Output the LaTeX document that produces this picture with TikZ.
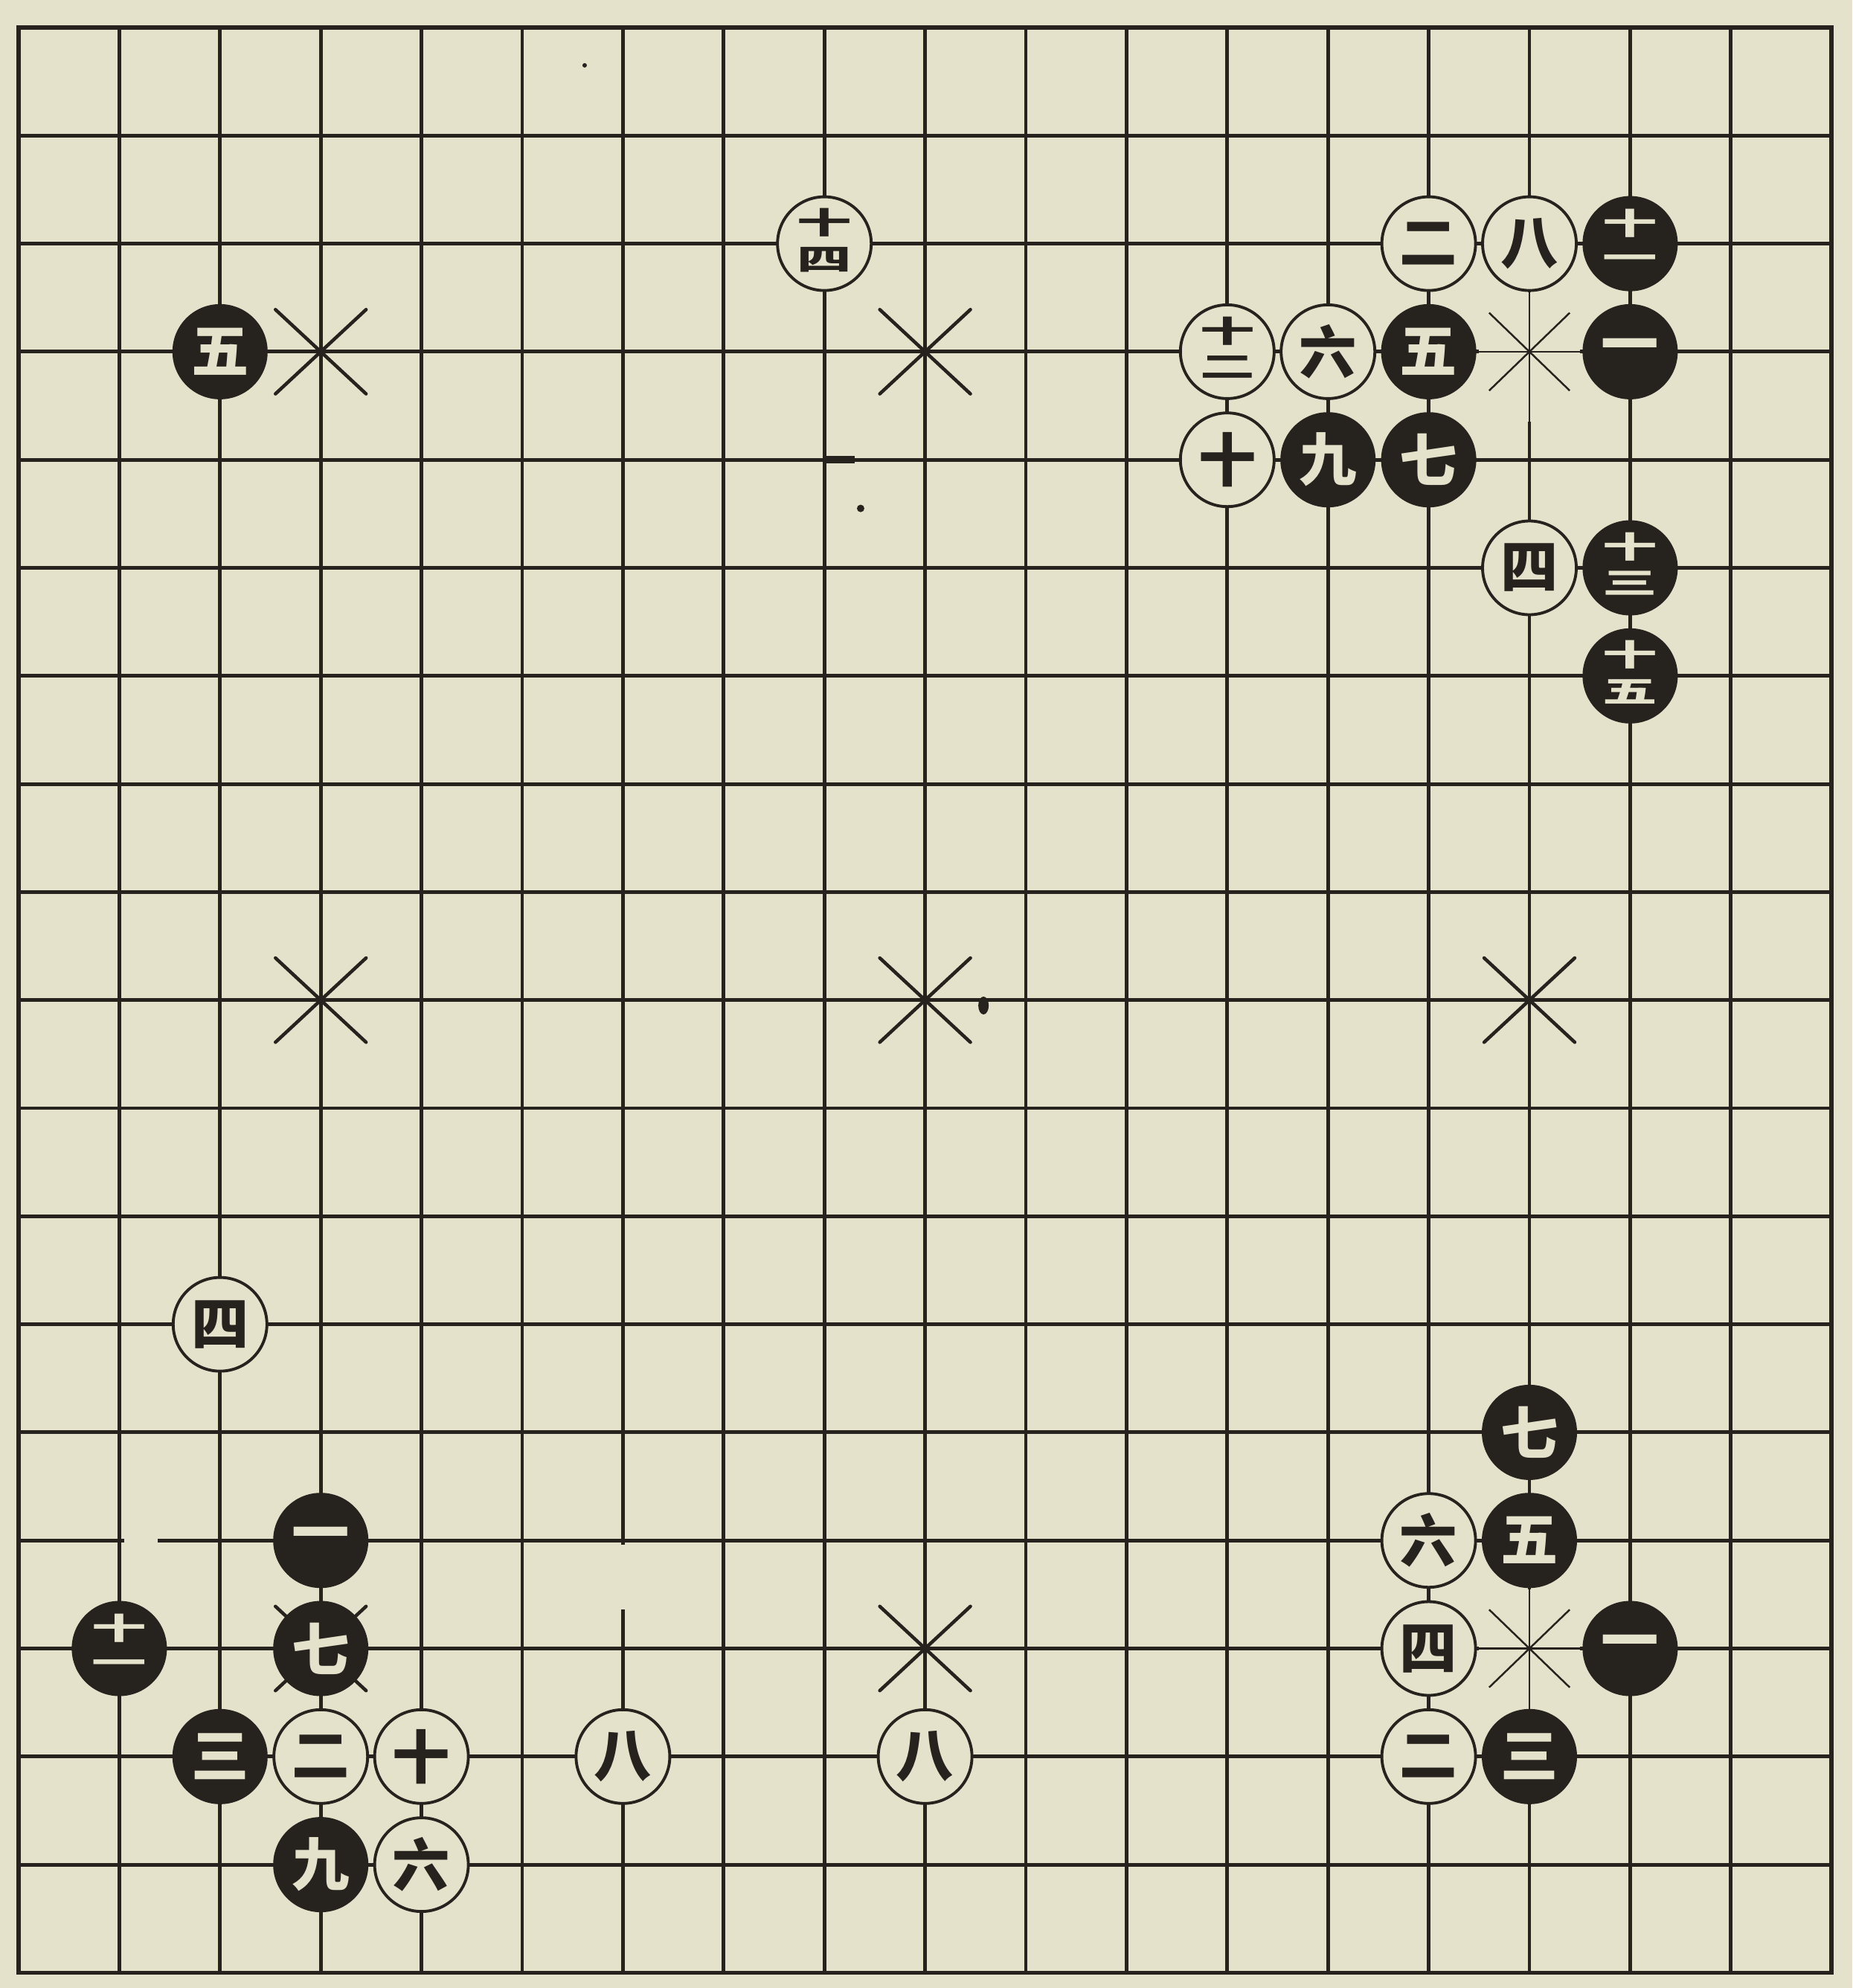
\documentclass[tikz,border=0pt]{standalone}
\usepackage{fontspec}
\usepackage{graphicx}
\newfontfamily\cjk{Noto Sans CJK SC}
\definecolor{paper}{RGB}{228,226,203}
\definecolor{ink}{RGB}{38,34,30}
\tikzset{
  gridline/.style={draw=ink, line width=1.4pt},
  thinline/.style={draw=ink, line width=0.6pt},
  erase/.style={draw=paper, line width=2.6pt},
  starx/.style={draw=ink, line width=1.3pt, line cap=round},
  thinstar/.style={draw=ink, line width=0.7pt},
  wst/.style={circle, draw=ink, fill=paper, line width=1.1pt, minimum size=1.26cm, inner sep=0pt,
    font=\cjk\bfseries\fontsize{22}{22}\selectfont, text=ink},
  bst/.style={circle, fill=ink, minimum size=1.28cm, inner sep=0pt,
    font=\cjk\bfseries\fontsize{22}{22}\selectfont, text=paper},
}
\newcommand\stk[2]{\scalebox{0.95}[0.52]{\shortstack{\strut#1\\\strut#2}}}
\begin{document}
\begin{tikzpicture}[x=1.354cm, y=-1.453cm]
\fill[paper] (0.8154,0.7454) rectangle (19.2053,19.1418);
\useasboundingbox (0.8154,0.7454) rectangle (19.2053,19.1418);
% grid
\foreach \i in {2,...,18} {
  \draw[gridline] (\i,1) -- (\i,19);
  \draw[gridline] (1,\i) -- (19,\i);
}
\draw[gridline, line width=1.6pt] (1,1) rectangle (19,19);
% gaps and thin parts of the print
\draw[erase] (7,15.04) -- (7,15.64);
\draw[erase] (2.05,15) -- (2.38,15);
\draw[erase] (16,3.45) -- (16,4.65) (15.5,4) -- (16.5,4);
\draw[thinline] (16,3.45) -- (16,4.65) (15.5,4) -- (16.5,4);
\draw[erase] (16,15.45) -- (16,16.6) (15.5,16) -- (16.5,16);
\draw[thinline] (16,15.45) -- (16,16.6) (15.5,16) -- (16.5,16);
% star points
\foreach \a/\b in {4/4,10/4,4/10,10/10,16/10,4/16,10/16} {
  \draw[starx] (\a-0.45,\b-0.39) -- (\a+0.45,\b+0.39) (\a-0.45,\b+0.39) -- (\a+0.45,\b-0.39);
}
\foreach \a/\b in {16/4,16/16} {
  \draw[thinstar] (\a-0.4,\b-0.36) -- (\a+0.4,\b+0.36) (\a-0.4,\b+0.36) -- (\a+0.4,\b-0.36);
}
% printing specks
\draw[ink, line width=3pt] (9,5) -- (9.3,5);
\fill[ink] (9.36,5.45) circle (0.05cm);
\fill[ink] (10.58,10.05) ellipse (0.07cm and 0.12cm);
\fill[ink] (6.62,1.35) circle (0.03cm);
% white stones
\node[wst] (w1) at (9,3) {\stk{十}{四}};
\node[wst] (w2) at (15,3) {二};
\node[wst] (w3) at (16,3) {八};
\node[wst] (w4) at (13,4) {\stk{十}{二}};
\node[wst] (w5) at (14,4) {六};
\node[wst] (w6) at (13,5) {十};
\node[wst] (w7) at (16,6) {四};
\node[wst] (w8) at (3,13) {四};
\node[wst] (w9) at (4,17) {二};
\node[wst] (w10) at (5,17) {十};
\node[wst] (w11) at (7,17) {八};
\node[wst] (w12) at (10,17) {八};
\node[wst] (w13) at (5,18) {六};
\node[wst] (w14) at (15,15) {六};
\node[wst] (w15) at (15,16) {四};
\node[wst] (w16) at (15,17) {二};
% black stones
\node[bst] (b1) at (3,4) {五};
\node[bst] (b2) at (17,3) {\stk{十}{一}};
\node[bst] (b3) at (15,4) {五};
\node[bst] (b4) at (17,4) {一};
\node[bst] (b5) at (14,5) {九};
\node[bst] (b6) at (15,5) {七};
\node[bst] (b7) at (17,6) {\stk{十}{三}};
\node[bst] (b8) at (17,7) {\stk{十}{五}};
\node[bst] (b9) at (4,15) {一};
\node[bst] (b10) at (2,16) {\stk{十}{一}};
\node[bst] (b11) at (4,16) {七};
\node[bst] (b12) at (3,17) {三};
\node[bst] (b13) at (4,18) {九};
\node[bst] (b14) at (16,14) {七};
\node[bst] (b15) at (16,15) {五};
\node[bst] (b16) at (17,16) {一};
\node[bst] (b17) at (16,17) {三};
\end{tikzpicture}
\end{document}
